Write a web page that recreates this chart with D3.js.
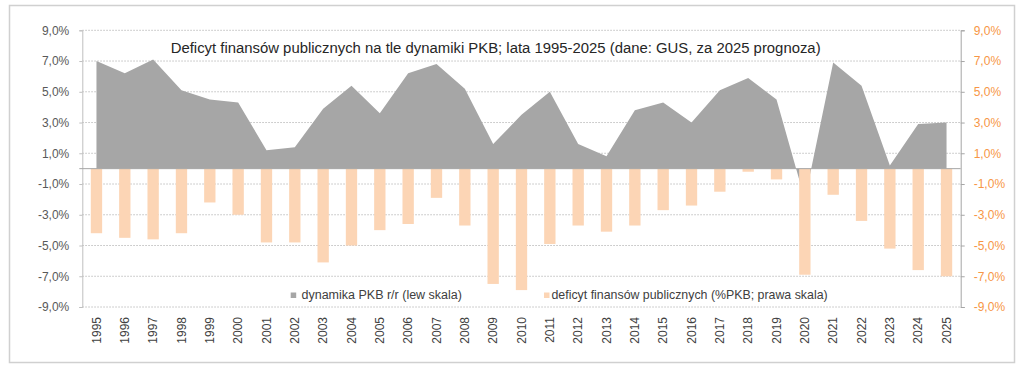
<!DOCTYPE html>
<html>
<head>
<meta charset="utf-8">
<script src="https://cdn.jsdelivr.net/npm/d3@7"></script>
<style>
  html, body { margin: 0; padding: 0; background: #fff; }
  svg { display: block; font-family: "Liberation Sans", Arial, sans-serif; }
</style>
</head>
<body>
<svg id="chart" width="1024" height="367"></svg>
<script>
const years = ["1995","1996","1997","1998","1999","2000","2001","2002","2003","2004","2005","2006","2007","2008","2009","2010","2011","2012","2013","2014","2015","2016","2017","2018","2019","2020","2021","2022","2023","2024","2025"];
const gdpGrowth = [7.0,6.2,7.1,5.1,4.5,4.3,1.2,1.4,3.9,5.4,3.6,6.2,6.8,5.2,1.6,3.5,5.0,1.6,0.8,3.8,4.3,3.0,5.1,5.9,4.5,-2.0,6.9,5.4,0.2,2.9,3.0];
const deficit = [-4.2,-4.5,-4.6,-4.2,-2.2,-3.0,-4.8,-4.8,-6.1,-5.0,-4.0,-3.6,-1.9,-3.7,-7.5,-7.9,-4.9,-3.7,-4.1,-3.7,-2.7,-2.4,-1.5,-0.2,-0.7,-6.9,-1.7,-3.4,-5.2,-6.6,-7.0];
const tickValues = [-9,-7,-5,-3,-1,1,3,5,7,9];
const titleText = "Deficyt finansów publicznych na tle dynamiki PKB; lata 1995-2025 (dane: GUS, za 2025 prognoza)";
const legendLabels = ["dynamika PKB r/r (lew skala)", "deficyt finansów publicznych (%PKB; prawa skala)"];

(function () {
const svg = d3.select("#chart");
const pLeft = 82.3, pRight = 960.7, pTop = 30.3, pBottom = 307;

// outer border
svg.append("rect").attr("x", 9.5).attr("y", 5.5).attr("width", 1005).attr("height", 357)
  .attr("fill", "#fff").attr("stroke", "#d0d0d0").attr("stroke-width", 1.5);

const x = d3.scaleBand().domain(years).range([pLeft, pRight]).paddingInner(0.6).paddingOuter(0.3);
const y = d3.scaleLinear().domain([-9, 9]).range([pBottom, pTop]);
const fmt = v => d3.format(".1f")(v).replace(".", ",").replace("−", "-") + "%";

// gridlines
svg.append("g").selectAll("line").data(tickValues).join("line")
  .attr("x1", pLeft).attr("x2", pRight)
  .attr("y1", d => y(d)).attr("y2", d => y(d))
  .attr("stroke", "#bfbfbf").attr("stroke-width", 1).attr("stroke-dasharray", "1.5,1.5");

// area
const cx = d => x(d) + x.bandwidth() / 2;
const area = d3.area()
  .x((d, i) => cx(years[i]))
  .y0(y(0))
  .y1(d => y(d));
svg.append("path").datum(gdpGrowth).attr("d", area).attr("fill", "#a6a6a6");

// bars
svg.append("g").selectAll("rect").data(deficit).join("rect")
  .attr("x", (d, i) => x(years[i]))
  .attr("width", x.bandwidth())
  .attr("y", d => Math.min(y(0), y(d)))
  .attr("height", d => Math.abs(y(d) - y(0)))
  .attr("fill", "#fcd5b5");

// left axis
const leftAxis = svg.append("g").attr("transform", `translate(${pLeft},0)`)
  .call(d3.axisLeft(y).tickValues(tickValues).tickSize(3).tickPadding(10).tickFormat(fmt));
leftAxis.select(".domain").attr("stroke", "#bfbfbf");
leftAxis.selectAll(".tick line").attr("stroke", "#bfbfbf");
leftAxis.selectAll("text").attr("fill", "#595959").style("font-size", "12px").style("font-family", "Liberation Sans, Arial, sans-serif");

// right axis
const rightAxis = svg.append("g").attr("transform", `translate(${pRight},0)`)
  .call(d3.axisRight(y).tickValues(tickValues).tickSize(4).tickPadding(9).tickFormat(fmt));
rightAxis.select(".domain").attr("stroke", "#a6a6a6");
rightAxis.selectAll(".tick line").attr("stroke", "#a6a6a6");
rightAxis.selectAll("text").attr("fill", "#f79646").style("font-size", "12px").style("font-family", "Liberation Sans, Arial, sans-serif");

// zero axis line
svg.append("line").attr("x1", pLeft - 3).attr("x2", pRight).attr("y1", y(0)).attr("y2", y(0))
  .attr("stroke", "#a6a6a6").attr("stroke-width", 1);

// year labels
svg.append("g").selectAll("text").data(years).join("text")
  .attr("transform", d => `translate(${cx(d) + 4.3},${pBottom + 10}) rotate(-90)`)
  .attr("text-anchor", "end")
  .attr("fill", "#404040")
  .style("font-size", "12px")
  .text(d => d);

// fit text helper
function fitText(sel, targetWidth, base) {
  sel.style("font-size", base + "px");
  const w = sel.node().getComputedTextLength();
  sel.style("font-size", (base * targetWidth / w) + "px");
}

// title
const title = svg.append("text").attr("x", 170.7).attr("y", 52.5).attr("fill", "#262626").text(titleText);
fitText(title, 651, 15);

// legend
const legendItems = [
  {sx: 290.7, tx: 301.5, w: 160.5, color: "#a6a6a6", label: legendLabels[0]},
  {sx: 544, tx: 551.5, w: 276.5, color: "#fcd5b5", label: legendLabels[1]}
];
legendItems.forEach(it => {
  svg.append("rect").attr("x", it.sx).attr("y", 292.5).attr("width", 5.5).attr("height", 5.5).attr("fill", it.color);
  const t = svg.append("text").attr("x", it.tx).attr("y", 298.5).attr("fill", "#404040").text(it.label);
  fitText(t, it.w, 12);
});
})();
</script>
</body>
</html>
